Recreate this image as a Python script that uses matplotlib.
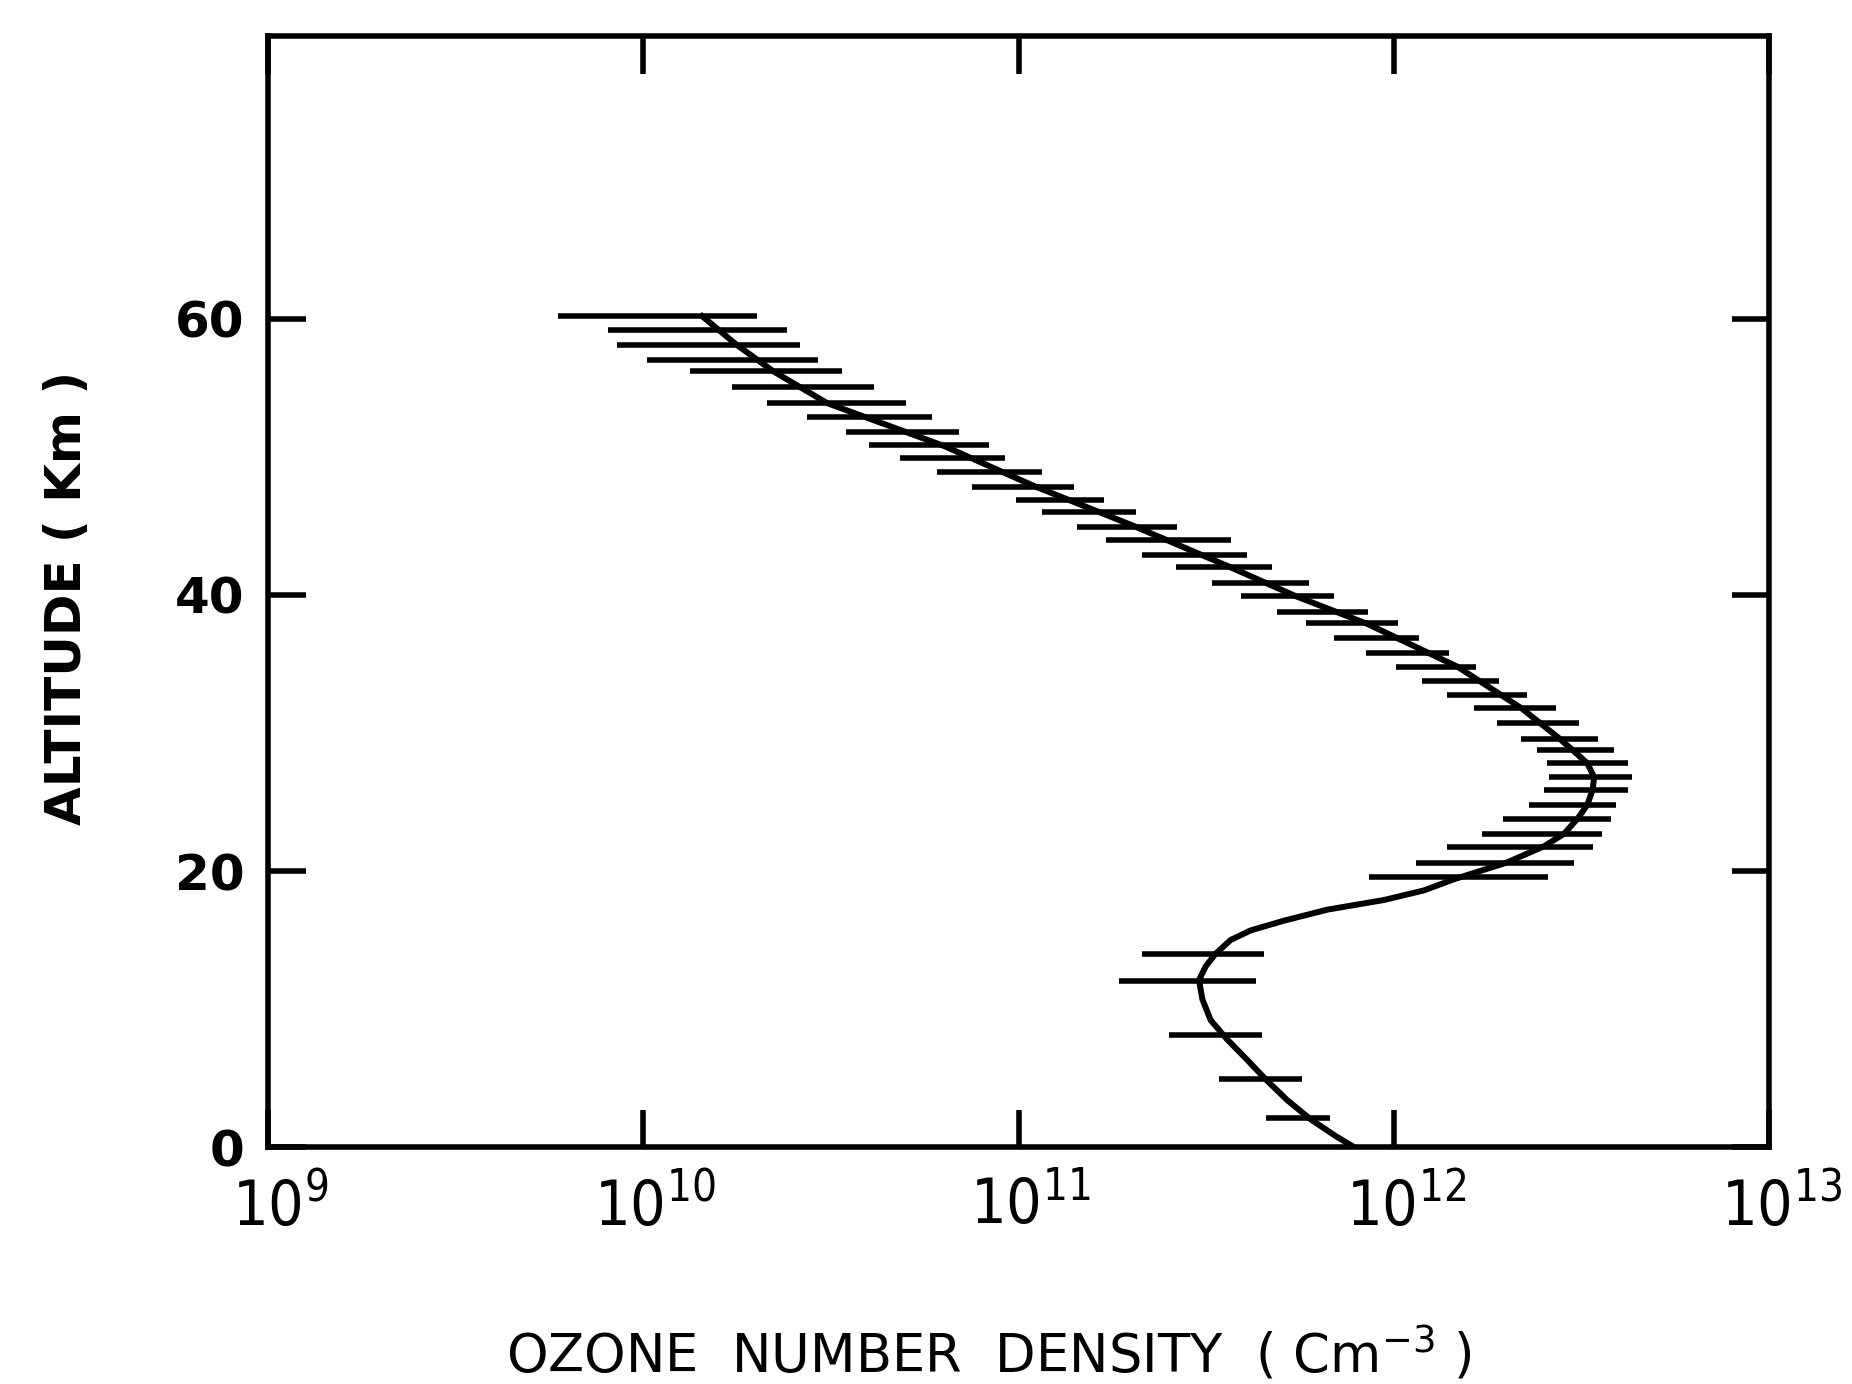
import numpy as np
import matplotlib
matplotlib.use('Agg')
import matplotlib.pyplot as plt
import matplotlib.transforms as mtransforms
from matplotlib import font_manager
from matplotlib.font_manager import FontProperties
from matplotlib.ticker import NullLocator

# Ozone profile (altitude in km, density as log10 cm^-3)
curve_alt = [0.0, 0.8, 2.0, 3.4, 4.9, 6.3, 7.8, 9.2, 10.7, 12.1, 13.1, 14.0,
             15.0, 15.7, 16.4, 17.2, 17.9, 18.6, 19.4, 20.6, 21.8, 22.7, 23.8,
             24.8, 25.9, 26.8, 27.8, 28.8, 29.7, 31.8, 34.8, 37.9, 39.9, 42.1,
             45.0, 47.9, 50.8, 53.9, 56.2, 58.1, 60.2]
curve_log = [11.894, 11.845, 11.779, 11.716, 11.659, 11.610, 11.556, 11.512,
             11.490, 11.481, 11.499, 11.525, 11.565, 11.619, 11.707, 11.823,
             11.974, 12.081, 12.160, 12.300, 12.401, 12.454, 12.490, 12.516,
             12.530, 12.534, 12.516, 12.475, 12.437, 12.340, 12.170, 11.930,
             11.740, 11.557, 11.307, 11.041, 10.801, 10.490, 10.347, 10.250,
             10.157]

# Error bars: altitude, lower and upper ends (log10)
bar_alt = [60.2, 59.2, 58.1, 57.0, 56.2, 55.1, 53.9, 52.9, 51.8, 50.9, 49.9,
           48.9, 47.85, 46.9, 46.0, 44.95, 44.0, 42.9, 42.05, 40.85, 39.9,
           38.8, 37.95, 36.9, 35.8, 34.8, 33.8, 32.75, 31.8, 30.7, 29.6, 28.8,
           27.8, 26.8, 25.9, 24.8, 23.8, 22.7, 21.76, 20.56, 19.6,
           14.0, 12.0, 8.1, 4.9, 2.1]
bar_lo = [9.774, 9.907, 9.930, 10.010, 10.125, 10.236, 10.330, 10.436, 10.539,
          10.601, 10.685, 10.783, 10.877, 10.992, 11.063, 11.156, 11.232,
          11.330, 11.419, 11.516, 11.592, 11.688, 11.765, 11.841, 11.925,
          12.005, 12.076, 12.143, 12.214, 12.276, 12.339, 12.383, 12.408,
          12.414, 12.401, 12.361, 12.290, 12.236, 12.143, 12.059, 11.934,
          11.330, 11.268, 11.401, 11.534, 11.659]
bar_hi = [10.303, 10.383, 10.419, 10.467, 10.530, 10.614, 10.699, 10.770,
          10.841, 10.921, 10.965, 11.063, 11.148, 11.227, 11.312, 11.423,
          11.565, 11.610, 11.676, 11.774, 11.841, 11.930, 12.010, 12.067,
          12.147, 12.219, 12.281, 12.356, 12.432, 12.494, 12.543, 12.587,
          12.623, 12.636, 12.623, 12.592, 12.579, 12.556, 12.530, 12.481,
          12.410, 11.654, 11.632, 11.649, 11.756, 11.829]

x_ticks = [1e9, 1e10, 1e11, 1e12, 1e13]
x_ticklabels = [r'$\mathregular{10^{9}}$', r'$\mathregular{10^{10}}$',
                r'$\mathregular{10^{11}}$', r'$\mathregular{10^{12}}$',
                r'$\mathregular{10^{13}}$']
y_ticks = [0, 20, 40, 60]
y_ticklabels = ['0', '20', '40', '60']


def narrow_font(size):
    # look for a condensed / narrow sans face, else Liberation Sans
    skip = ('bold', 'italic', 'oblique', 'mono', 'serif', 'light', 'thin',
            'black', 'semi', 'extra', 'medium')
    found = []
    for f in font_manager.fontManager.ttflist:
        low = f.fname.lower().split('/')[-1]
        if ('narrow' in low or 'condensed' in low) and not any(s in low for s in skip):
            found.append(f.fname)
    order = ['liberationsansnarrow', 'dejavusanscondensed', 'roboto', 'notosans', 'opensans']
    for key in order:
        for fn in found:
            if key in fn.lower().replace('-', '').replace('_', ''):
                return FontProperties(fname=fn, size=size)
    if found:
        return FontProperties(fname=found[0], size=size)
    return FontProperties(family='Liberation Sans', size=size - 4)


fig = plt.figure(figsize=(18.52, 13.84), dpi=100)
ax = fig.add_axes([0.1447, 0.1712, 0.8105, 0.8028])

ax.hlines(bar_alt, 10 ** np.array(bar_lo), 10 ** np.array(bar_hi),
          colors='black', linewidth=4.0)
ax.plot(10 ** np.array(curve_log), curve_alt, color='black', linewidth=4.3)

ax.set_xscale('log')
ax.set_xlim(1e9, 1e13)
ax.set_ylim(0, 80.5)

ax.set_xticks(x_ticks)
ax.set_xticklabels(x_ticklabels, fontproperties=narrow_font(45))
ax.xaxis.set_minor_locator(NullLocator())
ax.set_yticks(y_ticks)
ax.set_yticklabels(y_ticklabels, fontsize=36, fontweight='bold')

ax.tick_params(axis='both', which='major', direction='in', length=27,
               width=4, top=True, right=True, color='black')
ax.tick_params(axis='x', pad=20)
ax.tick_params(axis='y', pad=17)

# exponent labels sit a little right of their ticks
shift = mtransforms.ScaledTranslation(0.12, 0, fig.dpi_scale_trans)
for lab in ax.get_xticklabels():
    lab.set_transform(lab.get_transform() + shift)

for sp in ax.spines.values():
    sp.set_linewidth(4)

ax.set_xlabel(r'OZONE  NUMBER  DENSITY  ( Cm$^{-3}$ )', fontsize=38, va='center')
ax.xaxis.set_label_coords(0.48, -0.187)
ax.set_ylabel('ALTITUDE ( Km )', fontsize=36, fontweight='bold', va='center')
ax.yaxis.set_label_coords(-0.134, 0.494)

fig.savefig('out.png', dpi=100)
